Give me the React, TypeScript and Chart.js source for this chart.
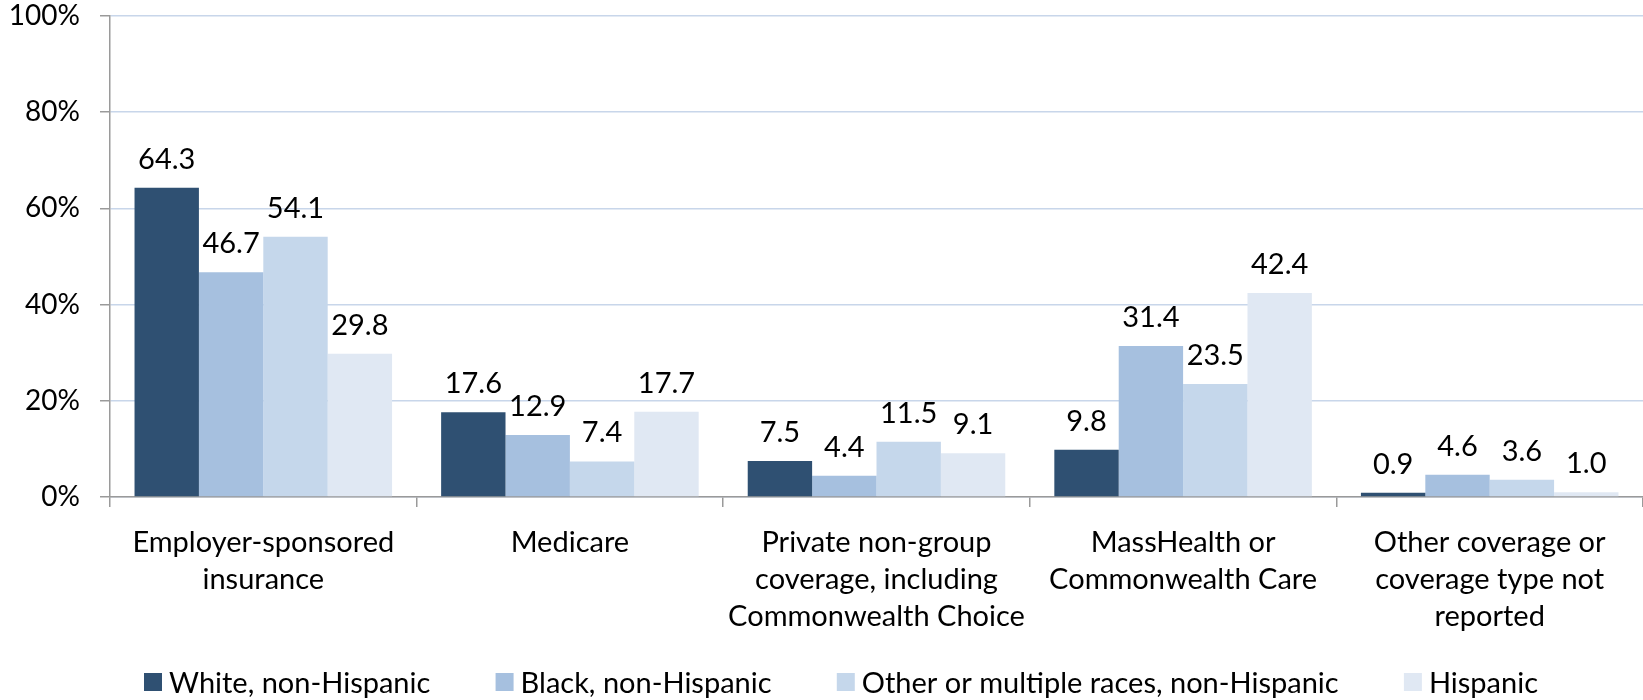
import React, { useEffect, useRef } from "react";
import { Chart, registerables } from "chart.js";

Chart.register(...registerables);

const categories: string[][] = [
  ["Employer-sponsored", "insurance"],
  ["Medicare"],
  ["Private non-group", "coverage, including", "Commonwealth Choice"],
  ["MassHealth or", "Commonwealth Care"],
  ["Other coverage or", "coverage type not", "reported"],
];

const seriesNames = [
  "White, non-Hispanic",
  "Black, non-Hispanic",
  "Other or multiple races, non-Hispanic",
  "Hispanic",
];

const whiteValues = [64.3, 17.6, 7.5, 9.8, 0.9];
const blackValues = [46.7, 12.9, 4.4, 31.4, 4.6];
const otherValues = [54.1, 7.4, 11.5, 23.5, 3.6];
const hispanicValues = [29.8, 17.7, 9.1, 42.4, 1.0];

const yTicks = [0, 20, 40, 60, 80, 100];

const colors = ["#2f5072", "#a6c0df", "#c5d7eb", "#e0e8f3"];

const FONT = "Lato, 'Open Sans', sans-serif";

const valueLabels = {
  id: "valueLabels",
  afterDatasetsDraw(chart: any) {
    const ctx = chart.ctx;
    ctx.save();
    ctx.font = `29px ${FONT}`;
    ctx.fillStyle = "#000";
    ctx.textAlign = "center";
    ctx.textBaseline = "alphabetic";
    chart.data.datasets.forEach((ds: any, i: number) => {
      const meta = chart.getDatasetMeta(i);
      meta.data.forEach((el: any, j: number) => {
        const v = ds.data[j];
        ctx.fillText(v.toFixed(1), el.x, el.y - 19);
      });
    });
    ctx.restore();
  },
};

const bottomLegend = {
  id: "bottomLegend",
  afterDraw(chart: any) {
    const ctx = chart.ctx;
    ctx.save();
    ctx.font = `29px ${FONT}`;
    ctx.textBaseline = "alphabetic";
    ctx.textAlign = "left";
    const box = 18;
    const gapText = 7;
    const startX = 144;
    const endX = 1538;
    const ds = chart.data.datasets;
    const widths = ds.map((d: any) => box + gapText + ctx.measureText(d.label).width);
    const sum = widths.reduce((a: number, b: number) => a + b, 0);
    const gap = (endX - startX - sum) / (ds.length - 1);
    let x = startX;
    ds.forEach((d: any, i: number) => {
      ctx.fillStyle = d.backgroundColor;
      ctx.fillRect(x, 673, box, box);
      ctx.fillStyle = "#000";
      ctx.fillText(d.label, x + box + gapText, 693);
      x += widths[i] + gap;
    });
    ctx.restore();
  },
};

export default function App() {
  const ref = useRef<HTMLCanvasElement>(null);
  useEffect(() => {
    if (!ref.current) return;
    const all = [whiteValues, blackValues, otherValues, hispanicValues];
    const chart = new Chart(ref.current, {
      type: "bar",
      data: {
        labels: categories,
        datasets: all.map((d, i) => ({
          label: seriesNames[i],
          data: d,
          backgroundColor: colors[i],
          borderWidth: 0,
          categoryPercentage: 0.84,
          barPercentage: 1.0,
        })),
      },
      options: {
        animation: false,
        responsive: false,
        maintainAspectRatio: false,
        layout: { padding: { top: 16, right: 0, left: 0, bottom: 43 } },
        plugins: {
          tooltip: { enabled: false },
          legend: { display: false },
        },
        scales: {
          y: {
            min: 0,
            max: 100,
            afterBuildTicks(scale: any) {
              scale.ticks = yTicks.map((v) => ({ value: v }));
            },
            afterFit(scale: any) {
              scale.width = 110;
              scale.paddingTop = 0;
              scale.paddingBottom = 0;
            },
            ticks: {
              font: { size: 28, family: FONT },
              color: "#000",
              padding: 20,
              callback: (v: any) => v + "%",
            },
            grid: {
              color: "#c8d6ea",
              lineWidth: 1.5,
              tickColor: "#9a9a9a",
              tickLength: 10,
            },
            border: { color: "#9a9a9a", width: 1.5 },
          },
          x: {
            afterFit(scale: any) {
              scale.height = 160;
              scale.paddingLeft = 0;
              scale.paddingRight = 0;
            },
            ticks: {
              font: { size: 29, family: FONT, lineHeight: 1.28 },
              color: "#000",
              padding: 17,
              maxRotation: 0,
              autoSkip: false,
            },
            grid: {
              drawOnChartArea: false,
              tickColor: "#9a9a9a",
              tickLength: 10,
              lineWidth: 1.5,
            },
            border: { color: "#9a9a9a", width: 1.5 },
          },
        },
      },
      plugins: [valueLabels, bottomLegend],
    } as any);
    return () => chart.destroy();
  }, []);
  return (
    <div style={{ position: "absolute", left: 0, top: 0, width: 1643, height: 700, background: "#fff" }}>
      <canvas ref={ref} width={1643} height={700} style={{ width: 1643, height: 700 }} />
    </div>
  );
}
